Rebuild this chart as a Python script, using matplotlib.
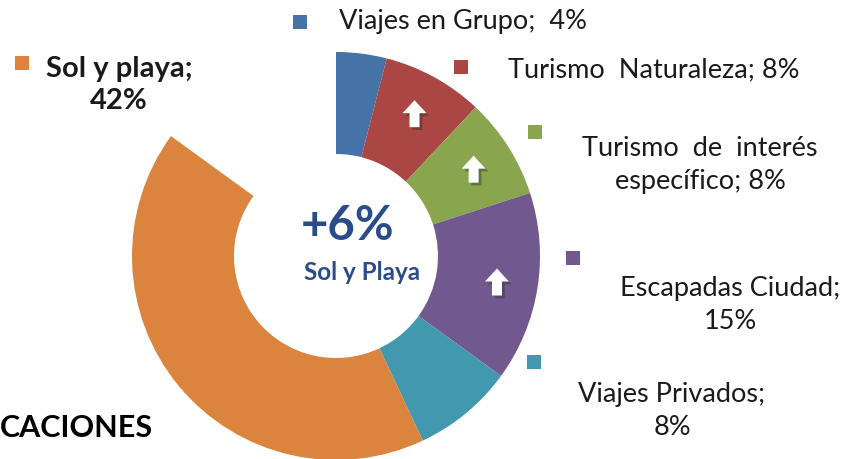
import matplotlib.pyplot as plt
import numpy as np
from matplotlib import patheffects

# Data
labels = ["Viajes en Grupo", "Turismo Naturaleza", "Turismo de interés específico",
          "Escapadas Ciudad", "Viajes Privados", "Sol y playa"]
shares = [4, 8, 8, 15, 8, 42]
colors = ["#4572A7", "#AA4643", "#89A54E", "#71588F", "#4198AF", "#DB843D"]
rising = [False, True, True, True, False, False]
label_texts = ["Viajes en Grupo;  4%", "Turismo  Naturaleza; 8%",
               "Turismo  de  interés\nespecífico; 8%", "Escapadas Ciudad;\n15%",
               "Viajes Privados;\n8%", "Sol y playa;\n42%"]

plt.rcParams["font.family"] = ["Lato", "DejaVu Sans"]

W, H = 853, 459
fig = plt.figure(figsize=(W / 100, H / 100), dpi=100)
ax = fig.add_axes([0, 0, 1, 1])

cx, cy = 336, H - 256
r_out, r_in = 204, 102
rest = 100 - sum(shares)

ax.pie(shares + [rest], colors=colors + ["none"], startangle=90, counterclock=False,
       center=(cx, cy), radius=r_out, wedgeprops=dict(width=r_out - r_in, linewidth=0),
       frame=True)
ax.set_xlim(0, W)
ax.set_ylim(0, H)
ax.set_aspect("equal")
ax.axis("off")

# white up arrows on growing segments
cum = np.cumsum([0] + shares)
shadow = [patheffects.SimplePatchShadow(offset=(2, -2), alpha=0.45, shadow_rgbFace="#333333"),
          patheffects.Normal()]
for i, up in enumerate(rising):
    if not up:
        continue
    mid = np.deg2rad(90 - (cum[i] + shares[i] / 2) * 3.6)
    ax_x = cx + 163 * np.cos(mid)
    ax_y = cy + 163 * np.sin(mid)
    ax.arrow(ax_x, ax_y - 14, 0, 14, width=10, head_width=24, head_length=13,
             length_includes_head=False, color="white", linewidth=0,
             path_effects=shadow, zorder=5)

# data labels with colour squares
txt_col = "#1a1a1a"
sq_pos = [(300, 22), (461, 67), (535, 132), (573, 258), (534, 362), (22, 63)]
txt_pos = [(339, 22, "left"), (508, 70, "left"), (700, 165, "center"),
           (730, 305, "center"), (672, 411, "center"), (119, 85, "center")]
for i in range(len(labels)):
    sx, sy = sq_pos[i]
    ax.scatter(sx, H - sy, marker="s", s=110, color=colors[i], linewidths=0)
    tx, ty, ha = txt_pos[i]
    ax.text(tx, H - ty, label_texts[i], ha=ha, va="center",
            fontsize=19.5 if i < 5 else 21,
            color=txt_col, linespacing=1.42 if i < 5 else 1.3,
            fontweight="bold" if i == 5 else "normal")

# centre text
ax.text(cx + 12, H - 226, "+6%", ha="center", va="center", fontsize=34,
        fontweight="bold", color="#2B4C8A")
ax.text(cx + 26, H - 273, "Sol y Playa", ha="center", va="center", fontsize=17.5,
        fontweight="bold", color="#2B4C8A")

ax.text(0, H - 428, "CACIONES", ha="left", va="center", fontsize=22,
        fontweight="bold", color="black")

fig.savefig("out.png", dpi=100)
